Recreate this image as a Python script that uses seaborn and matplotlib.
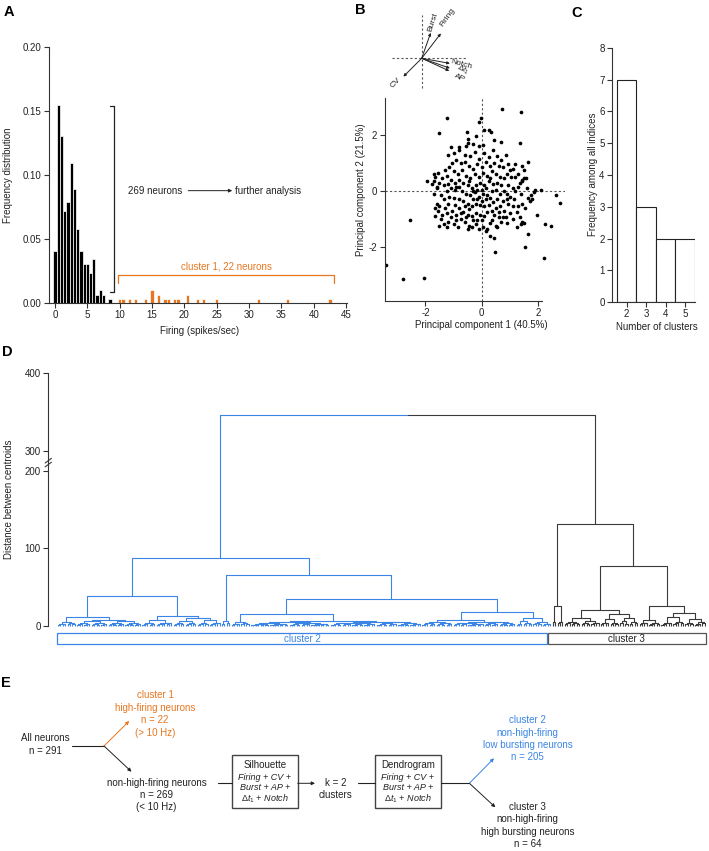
import numpy as np
import matplotlib
matplotlib.use("Agg")
import matplotlib.pyplot as plt
from matplotlib.patches import Rectangle
import seaborn as sns

# ---------------- data ----------------
# Panel A: firing-rate histogram (counts of neurons per 0.5 spikes/s bin)
n_total = 291
low_centers = [0, 0.5, 1, 1.5, 2, 2.5, 3, 3.5, 4, 4.5, 5, 5.5, 6, 6.5, 7, 7.5, 8.5]
low_counts = [12, 45, 38, 21, 23, 32, 26, 17, 12, 9, 9, 7, 10, 2, 3, 2, 1]
high_centers = [10, 10.5, 11.5, 12.5, 14, 15, 16, 17, 17.5, 18.5, 19, 20.5, 22, 23, 25, 31.5, 36, 42.5]
high_counts = [1, 1, 1, 1, 1, 3, 2, 1, 1, 1, 1, 2, 1, 1, 1, 1, 1, 1]

# Panel B: PCA scores
pc_points = [
    (0.73, 2.95), (1.40, 2.83), (-1.22, 2.63), (-0.02, 2.62), (-0.10, 2.48), (-1.50, 2.06),
    (0.10, 2.20), (0.25, 2.17), (0.32, 2.12), (-0.53, 2.13), (-0.20, 1.96), (0.45, 1.82),
    (-0.47, 1.85), (-0.47, 1.72), (0.69, 1.74), (1.37, 1.73),
    (-3.40, -2.65), (-2.80, -3.15), (-2.05, -3.10), (-2.55, -1.05), (2.20, -2.40), (1.55, -2.00),
    (0.48, -2.20), (1.65, -1.55), (2.25, -1.20), (2.45, -1.25), (2.80, -0.42), (2.65, -0.15),
    (1.95, -0.85), (0.28, -1.60), (0.45, -1.68),
    (2.10, 0.05), (1.90, 0.02), (1.85, -0.05), (1.75, -0.15), (1.80, -0.30), (1.65, -0.25),
    (1.50, 0.45), (1.58, 0.45), (1.65, 1.05), (1.45, 0.40), (1.45, 0.35), (1.35, 0.30),
    (1.45, -1.10), (1.50, -1.15), (1.40, -1.20), (1.25, -1.30), (1.10, -1.00), (1.45, -0.45),
    (1.30, -0.55), (1.10, -0.55), (1.50, 0.75), (1.45, 0.90), (1.30, 0.60), (1.20, 0.50),
    (1.10, 0.80), (1.00, 0.75), (1.05, 0.50), (0.95, 0.20), (1.10, 0.10), (1.20, 0.00),
    (1.30, 0.15), (0.90, -0.10), (1.00, -0.20), (1.15, -0.30), (0.95, -0.45), (0.80, -0.70),
    (1.00, -0.80), (0.85, -0.95), (0.70, -1.10), (0.60, -0.95), (0.50, -1.25), (0.35, -1.05),
    (0.20, -1.35), (0.05, -1.30), (-0.10, -1.35), (-0.20, -1.20), (-0.30, -1.05), (-0.45, -1.25),
    (-0.50, -1.35), (-0.60, -1.10), (-0.75, -1.00), (-0.90, -1.05), (-1.00, -1.20), (-1.10, -0.95),
    (-1.20, -1.10), (-1.35, -1.20), (-1.50, -1.25), (-1.40, -0.85), (-1.65, -0.90), (-1.25, -0.80),
    (-1.05, -0.70), (-1.30, -0.60), (-1.50, -0.55), (-1.20, -0.45), (-0.95, -0.50), (-0.80, -0.60),
    (-0.65, -0.75), (-0.50, -0.85), (-0.35, -0.90), (-0.20, -0.80), (-0.05, -0.85), (0.10, -0.90),
    (0.20, -0.75), (0.35, -0.70), (0.50, -0.60), (0.65, -0.55), (0.75, -0.35), (0.55, -0.30),
    (0.40, -0.40), (0.25, -0.50), (0.10, -0.55), (-0.05, -0.50), (-0.20, -0.45), (-0.35, -0.55),
    (-0.50, -0.45), (-0.65, -0.35), (-0.80, -0.30), (-1.00, -0.25), (-1.15, -0.20), (-1.35, -0.30),
    (-1.60, -0.45), (-1.70, -0.10), (-1.60, 0.10), (-1.75, 0.25), (-1.70, 0.35), (-1.65, 0.50),
    (-1.95, 0.35), (-1.70, 0.60), (-1.50, 0.30), (-1.35, 0.20), (-1.25, 0.00), (-1.10, 0.10),
    (-0.95, 0.05), (-0.80, 0.15), (-0.70, 0.00), (-0.55, -0.10), (-0.40, -0.15), (-0.25, -0.05),
    (-0.10, -0.20), (0.05, -0.10), (0.20, -0.15), (0.35, 0.00), (0.50, 0.05), (0.65, -0.10),
    (0.80, 0.00), (0.70, 0.20), (0.55, 0.30), (0.40, 0.25), (0.25, 0.35), (0.10, 0.20),
    (-0.05, 0.30), (-0.20, 0.20), (-0.35, 0.10), (-0.50, 0.20), (-0.65, 0.30), (-0.80, 0.40),
    (-0.95, 0.30), (-1.10, 0.40), (-1.25, 0.55), (-1.40, 0.45), (-1.30, 0.75), (-1.15, 0.85),
    (-1.00, 0.70), (-0.85, 0.60), (-0.70, 0.75), (-0.55, 0.55), (-0.40, 0.45), (-0.25, 0.60),
    (-0.10, 0.50), (0.05, 0.65), (0.20, 0.55), (0.35, 0.70), (0.50, 0.60), (0.65, 0.50),
    (0.80, 0.45), (0.90, 0.60), (0.75, 0.85), (0.60, 0.90), (0.45, 1.00), (0.30, 0.90),
    (0.15, 1.05), (0.00, 0.85), (-0.15, 0.95), (-0.30, 0.80), (-0.45, 0.90), (-0.60, 1.05),
    (-0.75, 1.00), (-0.90, 1.10), (-1.05, 1.00), (-1.20, 1.30), (-1.00, 1.35), (-0.80, 1.45),
    (-0.60, 1.30), (-0.40, 1.25), (-0.25, 1.40), (-0.10, 1.15), (0.10, 1.35), (0.25, 1.20),
    (0.40, 1.45), (0.55, 1.25), (0.70, 1.10), (0.85, 1.30), (-1.08, 1.56), (-0.79, 1.56),
    (-0.10, 1.60), (0.05, 1.65), (-0.55, 1.60), (-0.30, 1.70),
    (-0.15, -0.30), (0.00, -0.35), (0.15, -0.30), (0.30, -0.25), (-0.30, -0.30), (-0.45, -0.65),
    (-0.60, -0.55), (-0.75, -0.80), (-0.90, -0.85), (0.45, -0.85), (0.60, -0.75), (0.30, -1.15),
    (-0.35, -1.30), (0.00, -1.05), (-0.85, -1.30), (-1.55, -0.70), (-1.45, -1.00), (-1.65, -0.60),
    (-0.30, 0.00), (-0.15, 0.05), (0.00, 0.05), (0.15, 0.10), (-0.45, 0.35), (0.30, 0.45),
    (-0.90, 0.15), (-1.20, 0.25), (1.25, -0.75), (1.35, -0.95), (0.90, -1.15), (1.55, -0.60),
    (1.70, -0.35), (1.60, 0.10), (1.40, -0.10), (0.95, 0.95), (1.20, 0.95), (-1.55, 0.65),
    (-1.60, 0.15), (-1.45, -0.15), (0.55, -1.30), (0.15, -1.45), (-0.15, -1.05), (-0.55, -0.95),
    (-1.25, -1.30), (0.75, -0.95), (0.90, -0.30),
]
pc1 = [p[0] for p in pc_points]
pc2 = [p[1] for p in pc_points]

# Panel B inset: loadings (PC1, PC2)
load_names = ["Firing", "Burst", "Notch", r"$\Delta t_1$", "AP", "CV"]
load_pc1 = [0.64, 0.30, 0.94, 0.94, 0.92, -0.61]
load_pc2 = [0.83, 0.85, -0.17, -0.33, -0.42, -0.61]

# Panel C
n_clusters = [2, 3, 4, 5]
n_freq = [7, 3, 2, 2]

# Panel D: dendrogram.  internal node = [height, left, right]; bush = (n_leaves, height)
cluster2_tree = [87.4,
    [37.8,
        [11.6, [5.0, (4, 2.5), (4, 3.0)],
               [8.0, [6.0, (6, 3.0), (7, 3.5)], [6.5, (7, 3.5), (7, 3.0)]]],
        [12.9, [7.0, (6, 3.5), (7, 4.0)],
               [10.0, [6.0, (5, 3.0), (5, 3.5)], [7.5, (5, 3.5), (5, 4.0)]]]],
    [66.0,
        [6.0, (2, 2.0), (2, 3.0)],
        [34.0,
            [14.6, [5.0, (4, 2.5), (4, 3.0)],
                   [6.0, [4.5, [3.5, (8, 2.5), (8, 2.5)], [4.0, (9, 3.0), (8, 2.5)]],
                         [5.0, [4.0, (9, 3.0), (10, 3.0)], [4.5, (9, 3.0), (10, 3.5)]]]],
            [18.0, [7.3, [4.5, (6, 3.0), (7, 3.0)],
                         [5.5, [4.0, (6, 3.0), (7, 2.5)], [4.5, (6, 3.0), (7, 3.5)]]],
                   [10.3, [6.5, (3, 2.5), (4, 3.0)], [5.0, (4, 3.0), (4, 2.5)]]]]]]
cluster3_tree = [131.6,
    [25.7, (2, 5.0), (3, 5.0)],
    [77.0,
        [20.2, [9.5, [5.0, (3, 3.0), (4, 3.5)], [6.0, (4, 3.0), (4, 4.0)]],
               [14.6, [8.5, (4, 4.0), (4, 3.5)], [10.0, [6.0, (2, 3.0), (2, 2.5)], (4, 4.5)]]],
        [25.0, [7.3, (4, 4.0), (5, 3.5)],
               [16.0, [11.0, (5, 4.0), (5, 5.0)], [8.5, (4, 3.5), (5, 4.5)]]]]]
root_height = 345.6
bush_ratio = (0.6, 0.75)

# ---------------- style ----------------
W, H = 709, 851
sns.set_theme(style="ticks")
plt.rcParams['font.family'] = ['Liberation Sans', 'DejaVu Sans']
plt.rcParams.update({
    'axes.edgecolor': '#333333', 'axes.linewidth': 0.8,
    'xtick.color': '#333333', 'ytick.color': '#333333',
    'xtick.labelcolor': '#222222', 'ytick.labelcolor': '#222222',
    'xtick.labelsize': 7, 'ytick.labelsize': 7,
    'xtick.major.size': 3.5, 'ytick.major.size': 3.5,
    'xtick.major.width': 0.8, 'ytick.major.width': 0.8,
    'xtick.major.pad': 1.5, 'ytick.major.pad': 2,
    'axes.unicode_minus': False,
    'mathtext.fontset': 'custom', 'mathtext.rm': 'Liberation Sans',
    'mathtext.it': 'Liberation Sans:italic',
})
ORANGE = '#e8761e'
BLUE = '#3a85e6'
DARK = '#3a3a3a'
TXT = '#222222'

fig = plt.figure(figsize=(W / 100, H / 100), dpi=100)


def rect(l, t, r, b):
    return [l / W, 1 - b / H, (r - l) / W, (b - t) / H]


# overlay for free text / flowchart in pixel coordinates
ov = fig.add_axes([0, 0, 1, 1], zorder=-1)
ov.set_xlim(0, W)
ov.set_ylim(H, 0)
ov.axis('off')


def ptxt(x, y, s, size=7, **kw):
    kw.setdefault('ha', 'center')
    kw.setdefault('va', 'center')
    kw.setdefault('color', TXT)
    ov.text(x, y, s, fontsize=size, **kw)


for lab, (x, y) in {'A': (9, 12), 'B': (360, 10), 'C': (577, 13), 'D': (7, 352), 'E': (6, 683)}.items():
    ptxt(x, y, lab, size=10.5, fontweight='bold', color='black')

# ---------------- Panel A ----------------
axA = fig.add_axes(rect(49, 47.3, 346.7, 303.3))
sns.histplot(x=low_centers, weights=np.array(low_counts) / n_total, binwidth=0.5,
             binrange=(-0.25, 8.75), color='black', edgecolor='white', linewidth=0.5,
             alpha=1, ax=axA)
sns.histplot(x=high_centers, weights=np.array(high_counts) / n_total, binwidth=0.5,
             binrange=(9.75, 42.75), color=ORANGE, edgecolor='white', linewidth=0.5,
             alpha=1, ax=axA)
axA.set_xlim(-0.93, 45.1)
axA.set_ylim(0, 0.2)
axA.set_xticks(range(0, 46, 5))
axA.set_yticks([0, 0.05, 0.10, 0.15, 0.20])
axA.set_yticklabels(['0.00', '0.05', '0.10', '0.15', '0.20'])
axA.set_xlabel('')
axA.set_ylabel('')
sns.despine(ax=axA)
axA.plot([8.5, 9.12, 9.12, 8.5], [0.154, 0.154, 0.009, 0.009], color=TXT, lw=0.9)
axA.plot([9.8, 9.8, 43.1, 43.1], [0.0156, 0.022, 0.022, 0.0156], color=ORANGE, lw=0.9)
axA.text(26.5, 0.0288, 'cluster 1, 22 neurons', color=ORANGE, fontsize=7, ha='center', va='center')
axA.text(11.3, 0.088, '269 neurons', color=TXT, fontsize=7, ha='left', va='center')
axA.annotate('', xy=(27.4, 0.088), xytext=(20.6, 0.088),
             arrowprops=dict(arrowstyle='-|>', lw=0.7, color=TXT, mutation_scale=5,
                             shrinkA=0, shrinkB=0))
axA.text(27.8, 0.088, 'further analysis', color=TXT, fontsize=7, ha='left', va='center')
ptxt(8.5, 175, 'Frequency distribution', rotation=90)
ptxt(200, 331, 'Firing (spikes/sec)')

# ---------------- Panel B ----------------
axB = fig.add_axes(rect(385, 98, 565, 300.7))
sns.scatterplot(x=pc1, y=pc2, color='black', s=7, linewidth=0, ax=axB)
axB.set_xlim(-3.435, 2.96)
axB.set_ylim(-3.93, 3.33)
axB.axhline(0, color='#555555', lw=0.8, ls=(0, (2, 2)), zorder=0)
axB.axvline(0, color='#555555', lw=0.8, ls=(0, (2, 2)), zorder=0)
axB.set_xticks([-2, 0, 2])
axB.set_yticks([-2, 0, 2])
sns.despine(ax=axB)
axB.spines['bottom'].set_bounds(-3.435, 2.15)
ptxt(481.7, 325, 'Principal component 1 (40.5%)')
ptxt(360.7, 190, 'Principal component 2 (21.5%)', rotation=90)

# inset loadings (1 unit = 1 px, scale 30 px per loading unit)
axL = fig.add_axes(rect(385, 5, 480, 95))
axL.set_xlim(-36.7, 58.3)
axL.set_ylim(-36.7, 53.3)
axL.axis('off')
axL.plot([-30, 44.3], [0, 0], color='#555555', lw=0.8, ls=(0, (2, 2)))
axL.plot([0, 0], [-29.7, 43.3], color='#555555', lw=0.8, ls=(0, (2, 2)))
lscale = 30
label_pos = [(26, 41, 55), (11, 36, 72), (40, -6.0, -15), (41, -12.0, -25), (38, -19.5, -25), (-26, -24.5, 45)]
for name, lx, ly, (tx, ty, rot) in zip(load_names, load_pc1, load_pc2, label_pos):
    axL.annotate('', xy=(lx * lscale, ly * lscale), xytext=(0, 0),
                 arrowprops=dict(arrowstyle='-|>', lw=0.7, color=TXT, mutation_scale=4,
                                 shrinkA=0, shrinkB=0))
    axL.text(tx, ty, name, fontsize=6, rotation=rot, ha='center', va='center', color=TXT,
             rotation_mode='anchor')

# ---------------- Panel C ----------------
axC = fig.add_axes(rect(612.3, 47.7, 695, 302.3))
sns.histplot(x=n_clusters, weights=n_freq, discrete=True, color='white', edgecolor=TXT,
             linewidth=0.8, alpha=1, ax=axC)
axC.set_xlim(1.26, 5.5)
axC.set_ylim(0, 8)
axC.set_xticks(n_clusters)
axC.set_yticks(range(0, 9))
axC.set_xlabel('')
axC.set_ylabel('')
sns.despine(ax=axC)
ptxt(593.3, 174, 'Frequency among all indices', rotation=90)
ptxt(656.7, 327, 'Number of clusters')

# ---------------- Panel D ----------------
axD = fig.add_axes(rect(48.3, 373.3, 706, 646))


def yd(h):
    return h if h <= 200 else h - 74.3


segs = []


def bush(n, h, start, color):
    if n == 1:
        return float(start), 0.0, 1
    a = (n + 1) // 2
    xl, hl, nl = bush(a, h * bush_ratio[0], start, color)
    xr, hr, nr = bush(n - a, h * bush_ratio[1], start + a, color)
    segs.append(([xl, xl, xr, xr], [hl, h, h, hr], color))
    return (xl + xr) / 2, h, n


def build(node, start, color):
    if isinstance(node, tuple):
        return bush(node[0], node[1], start, color)
    h, left, right = node
    xl, hl, nl = build(left, start, color)
    xr, hr, nr = build(right, start + nl, color)
    segs.append(([xl, xl, xr, xr], [hl, h, h, hr], color))
    return (xl + xr) / 2, h, nl + nr


x2, h2, n2 = build(cluster2_tree, 0, BLUE)
x3, h3, n3 = build(cluster3_tree, n2, DARK)
for xs, hs, c in segs:
    axD.plot(xs, [yd(v) for v in hs], color=c, lw=0.8, solid_capstyle='butt')
xm = (x2 + x3) / 2
axD.plot([x2, x2, xm], [yd(h2), yd(root_height), yd(root_height)], color=BLUE, lw=0.8)
axD.plot([xm, x3, x3], [yd(root_height), yd(root_height), yd(h3)], color=DARK, lw=0.8)

xlo, xhi = -3.98, 268.5
axD.set_xlim(xlo, xhi)
axD.set_ylim(-26.1, 325.7)
axD.set_xticks([])
axD.set_yticks([0, 100, 200, yd(300), yd(400)])
axD.set_yticklabels(['0', '100', '200', '300', '400'])
sns.despine(ax=axD, bottom=True)
axD.spines['left'].set_bounds(0, yd(400))
for dy in (0, 5):
    axD.plot([xlo - 1.3, xlo + 1.3], [205 + dy, 211 + dy], color=DARK, lw=0.8, clip_on=False)
axD.add_patch(Rectangle((-0.5, -23.5), 203.0, 13.7, fill=False, edgecolor=BLUE, lw=0.9, clip_on=False))
axD.add_patch(Rectangle((203.0, -23.5), 268.4 - 203.0, 13.7, fill=False, edgecolor='#555555',
                        lw=0.9, clip_on=False))
axD.text(101.4, -16.6, 'cluster 2', color=BLUE, fontsize=7, ha='center', va='center')
axD.text(235.6, -16.6, 'cluster 3', color=TXT, fontsize=7, ha='center', va='center')
ptxt(9.5, 499, 'Distance between centroids', rotation=90)

# ---------------- Panel E (flowchart) ----------------
for i, s in enumerate(['cluster 1', 'high-firing neurons', 'n = 22', '(> 10 Hz)']):
    ptxt(155, 695 + 12.6 * i, s, color=ORANGE)
ptxt(45.7, 738.3, 'All neurons')
ptxt(45.7, 750.5, 'n = 291')
ov.plot([72, 104], [746, 746], color=TXT, lw=0.8)


def arrow(x0, y0, x1, y1, color=TXT):
    ov.annotate('', xy=(x1, y1), xytext=(x0, y0),
                arrowprops=dict(arrowstyle='-|>', lw=0.7, color=color, mutation_scale=5,
                                shrinkA=0, shrinkB=0))


arrow(104, 746, 129.2, 721, ORANGE)
arrow(104, 746, 131.5, 771.7)
for i, s in enumerate(['non-high-firing neurons', 'n = 269', '(< 10 Hz)']):
    ptxt(156.6, 782.7 + 12.4 * i, s)
ov.plot([218.3, 232], [783.3, 783.3], color=TXT, lw=0.8)
box_lines = ['Firing + CV +', 'Burst + AP +', r'$\Delta t_1$ + Notch']
for bx0, bx1, title in [(232, 297.7, 'Silhouette'), (375.3, 440.6, 'Dendrogram')]:
    ov.add_patch(Rectangle((bx0, 755), bx1 - bx0, 53.3, fill=False, edgecolor='#444444', lw=1.0))
    cx = (bx0 + bx1) / 2
    ptxt(cx, 765.5, title)
    for i, s in enumerate(box_lines):
        ptxt(cx, 777 + 10.8 * i, s, size=6.5, style='italic')
arrow(297.7, 783.3, 315, 783.3)
ptxt(335.6, 782.7, 'k = 2')
ptxt(335.6, 795, 'clusters')
ov.plot([358.4, 375.3], [783.3, 783.3], color=TXT, lw=0.8)
ov.plot([440.6, 469.4], [783.3, 783.3], color=TXT, lw=0.8)
arrow(469.4, 783.3, 494, 758.3, BLUE)
arrow(469.4, 783.3, 495.4, 807.3)
for i, s in enumerate(['cluster 2', 'non-high-firing', 'low bursting neurons', 'n = 205']):
    ptxt(527.4, 720.3 + 12.4 * i, s, color=BLUE)
for i, s in enumerate(['cluster 3', 'non-high-firing', 'high bursting neurons', 'n = 64']):
    ptxt(527.4, 806.7 + 12.5 * i, s)

fig.savefig('out.png', dpi=100)
